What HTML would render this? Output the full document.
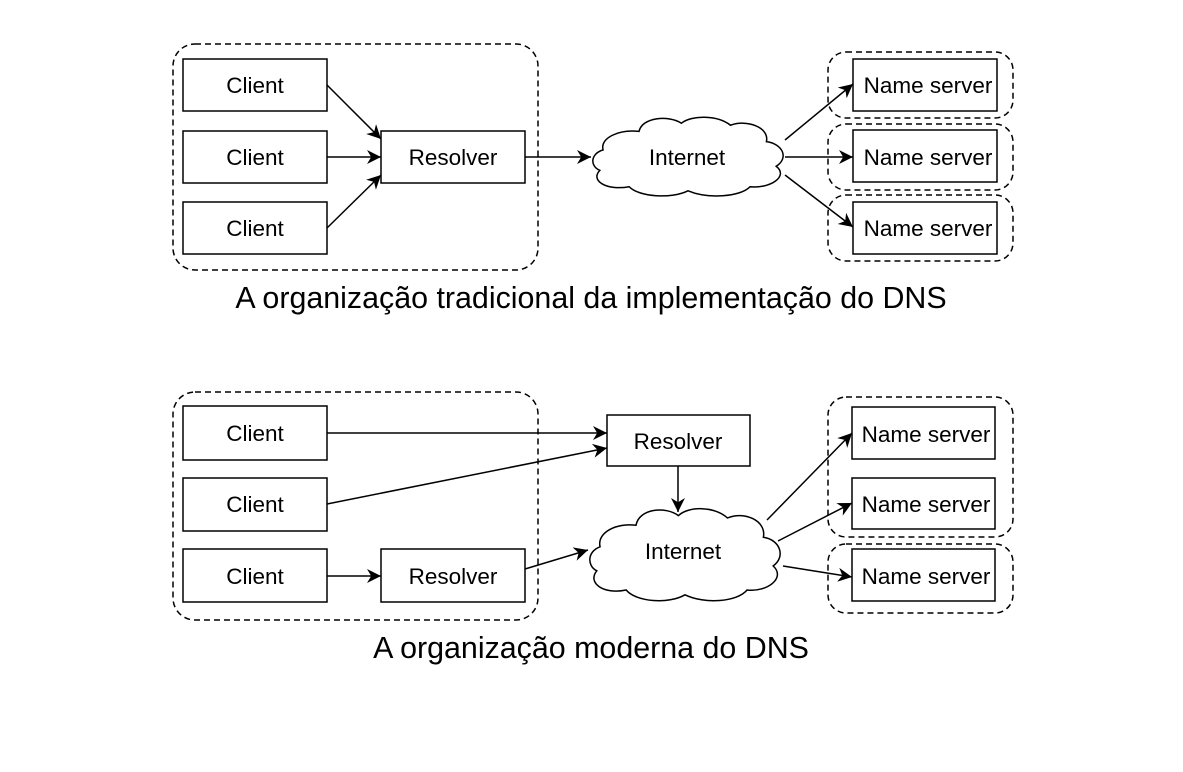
<!DOCTYPE html>
<html><head><meta charset="utf-8"><style>
html,body{margin:0;padding:0;background:#fff;}
svg{display:block;}
text{font-family:"Liberation Sans",Arial,sans-serif;fill:#000;}
</style></head><body>
<svg width="1183" height="772" viewBox="0 0 1183 772" xmlns="http://www.w3.org/2000/svg">
<defs>
<marker id="a" viewBox="0 0 10 10" refX="10" refY="5" markerWidth="17" markerHeight="14" markerUnits="userSpaceOnUse" orient="auto">
<path d="M0,0 L10,5 L0,10 L3,5 Z" fill="#000"/>
</marker>
<symbol id="cloud" viewBox="0 0 120 80" preserveAspectRatio="none">
<path vector-effect="non-scaling-stroke" d="M30 16 C18 14 6 22 8 34 C0 38 0 50 6 54 C0 64 10 74 24 70 C30 80 50 82 60 74 C72 82 92 80 98 70 C110 72 122 60 114 50 C122 42 118 28 108 26 C110 12 96 4 86 10 C78 0 62 0 56 8 C48 0 32 2 30 16 Z" fill="#fff" stroke="#000" stroke-width="1.5"/>
</symbol>
</defs>
<g fill="none" stroke="#000" stroke-width="1.5">
<rect x="173" y="44" width="365" height="226" rx="22" stroke-dasharray="6,4"/>
<rect x="828" y="52" width="185" height="66" rx="18" stroke-dasharray="6,4"/>
<rect x="828" y="124" width="185" height="66" rx="18" stroke-dasharray="6,4"/>
<rect x="828" y="195" width="185" height="66" rx="18" stroke-dasharray="6,4"/>
<rect x="183" y="59" width="144" height="52" fill="#fff"/>
<rect x="183" y="131" width="144" height="52" fill="#fff"/>
<rect x="183" y="202" width="144" height="52" fill="#fff"/>
<rect x="381" y="131" width="144" height="52" fill="#fff"/>
<rect x="853" y="59" width="144" height="52" fill="#fff"/>
<rect x="853" y="130" width="144" height="52" fill="#fff"/>
<rect x="853" y="202" width="144" height="52" fill="#fff"/>
<line x1="327" y1="85" x2="381" y2="139" marker-end="url(#a)"/>
<line x1="327" y1="157" x2="381" y2="157" marker-end="url(#a)"/>
<line x1="327" y1="228" x2="381" y2="175" marker-end="url(#a)"/>
<line x1="525" y1="157" x2="591" y2="157" marker-end="url(#a)"/>
<line x1="785" y1="140" x2="853" y2="84" marker-end="url(#a)"/>
<line x1="785" y1="157" x2="853" y2="157" marker-end="url(#a)"/>
<line x1="785" y1="175" x2="853" y2="227" marker-end="url(#a)"/>
<rect x="173" y="392" width="365" height="228" rx="22" stroke-dasharray="6,4"/>
<rect x="828" y="397" width="185" height="140" rx="18" stroke-dasharray="6,4"/>
<rect x="828" y="544" width="185" height="69" rx="18" stroke-dasharray="6,4"/>
<rect x="183" y="406" width="144" height="54" fill="#fff"/>
<rect x="183" y="478" width="144" height="53" fill="#fff"/>
<rect x="183" y="549" width="144" height="53" fill="#fff"/>
<rect x="381" y="549" width="144" height="53" fill="#fff"/>
<rect x="607" y="415" width="143" height="51" fill="#fff"/>
<rect x="852" y="407" width="143" height="52" fill="#fff"/>
<rect x="852" y="478" width="143" height="51" fill="#fff"/>
<rect x="852" y="549" width="143" height="52" fill="#fff"/>
<line x1="327" y1="433" x2="607" y2="433" marker-end="url(#a)"/>
<line x1="327" y1="504" x2="607" y2="448" marker-end="url(#a)"/>
<line x1="327" y1="576" x2="381" y2="576" marker-end="url(#a)"/>
<line x1="525" y1="569" x2="588" y2="550" marker-end="url(#a)"/>
<line x1="678" y1="466" x2="678" y2="512" marker-end="url(#a)"/>
<line x1="767" y1="520" x2="852" y2="433" marker-end="url(#a)"/>
<line x1="778" y1="541" x2="852" y2="503" marker-end="url(#a)"/>
<line x1="783" y1="566" x2="852" y2="577" marker-end="url(#a)"/>
</g>
<use href="#cloud" x="590" y="115" width="196" height="82"/>
<use href="#cloud" x="587" y="506" width="196" height="96"/>
<g font-size="22.5" text-anchor="middle">
<text x="255" y="93">Client</text>
<text x="255" y="165">Client</text>
<text x="255" y="236">Client</text>
<text x="453" y="165">Resolver</text>
<text x="687" y="165">Internet</text>
<text x="928" y="93">Name server</text>
<text x="928" y="165">Name server</text>
<text x="928" y="236">Name server</text>
<text x="255" y="441">Client</text>
<text x="255" y="512">Client</text>
<text x="255" y="584">Client</text>
<text x="453" y="584">Resolver</text>
<text x="678" y="449">Resolver</text>
<text x="683" y="559">Internet</text>
<text x="926" y="442">Name server</text>
<text x="926" y="512">Name server</text>
<text x="926" y="584">Name server</text>
</g>
<g font-size="30.4" text-anchor="middle">
<text x="591" y="308">A organização tradicional da implementação do DNS</text>
<text x="591" y="658">A organização moderna do DNS</text>
</g>
</svg>
</body></html>
